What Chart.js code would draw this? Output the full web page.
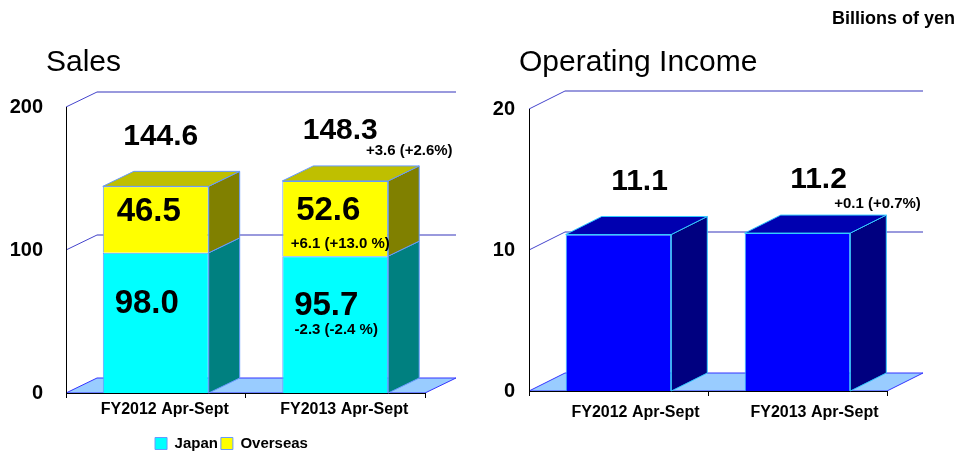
<!DOCTYPE html>
<html>
<head>
<meta charset="utf-8">
<script src="https://cdn.jsdelivr.net/npm/chart.js@4"></script>
<style>
  body { margin: 0; width: 960px; height: 454px; overflow: hidden; background: #fff; position: relative;
         font-family: Arial, "Liberation Sans", sans-serif; }
  .box { position: absolute; top: 0; }
  .title { position: absolute; top: 44px; font-size: 30px; line-height: 34px; color: #000; }
  .unit { position: absolute; top: 8px; right: 5px; font-size: 18px; font-weight: bold; line-height: 20px; color: #000; }
</style>
</head>
<body>
<div class="box" style="left:0;width:480px;height:461px"><canvas id="salesChart" width="480" height="461"></canvas></div>
<div class="box" style="left:480px;width:480px;height:454px"><canvas id="incomeChart" width="480" height="454"></canvas></div>
<div class="title" style="left:46px">Sales</div>
<div class="title" style="left:519px">Operating Income</div>
<div class="unit">Billions of yen</div>

<script>
// Sales / Operating Income (billions of yen)
const periods = ['FY2012 Apr-Sept', 'FY2013 Apr-Sept'];
const japanSales = [98.0, 95.7];
const overseasSales = [46.5, 52.6];
const salesTotals = ['144.6', '148.3'];
const salesChange = ['', '+3.6 (+2.6%)'];
const japanChange = ['', '-2.3 (-2.4 %)'];
const overseasChange = ['', '+6.1 (+13.0 %)'];
const operatingIncome = [11.1, 11.2];
const incomeChange = ['', '+0.1 (+0.7%)'];
const salesTicks = [0, 100, 200];
const incomeTicks = [0, 10, 20];

const FONT = 'Arial, "Liberation Sans", sans-serif';
Chart.defaults.font.family = FONT;

function line(ctx, x1, y1, x2, y2) {
    ctx.beginPath();
    ctx.moveTo(x1, y1);
    ctx.lineTo(x2, y2);
    ctx.stroke();
}

function poly(ctx, pts, fill, stroke) {
    ctx.beginPath();
    ctx.moveTo(pts[0][0], pts[0][1]);
    pts.slice(1).forEach(p => ctx.lineTo(p[0], p[1]));
    ctx.closePath();
    ctx.fillStyle = fill;
    ctx.fill();
    ctx.strokeStyle = stroke;
    ctx.stroke();
}

// fake 3D: floor + back wall before, side/top faces and value labels after
const box3d = {
    id: 'box3d',
    afterLayout(chart, args, o) {
        // nudge the legend so it sits under the bars rather than the canvas
        if (o.legendShift && chart.legend) {
            chart.legend.left += o.legendShift;
            chart.legend.right += o.legendShift;
        }
    },
    beforeDraw(chart, args, o) {
        const { ctx, chartArea: a, scales: { y } } = chart;
        const y0 = y.getPixelForValue(y.min);
        ctx.save();
        ctx.lineWidth = 1;
        poly(ctx, [[a.left, y0], [a.right, y0], [a.right + o.dx, y0 + o.dy], [a.left + o.dx, y0 + o.dy]], '#99ccff', '#3333ff');
        y.ticks.forEach(t => {
            if (t.value === y.min) return;
            const py = y.getPixelForValue(t.value);
            ctx.lineWidth = 2;
            ctx.strokeStyle = '#9999dd';
            line(ctx, a.left + o.dx, py + o.dy, a.right + o.dx, py + o.dy);
            ctx.lineWidth = 1;
            ctx.strokeStyle = '#4444cc';
            line(ctx, a.left, py, a.left + o.dx, py + o.dy);
        });
        ctx.restore();
    },
    afterDatasetsDraw(chart, args, o) {
        const ctx = chart.ctx;
        const last = chart.data.datasets.length - 1;
        ctx.save();
        ctx.lineWidth = 1;
        chart.data.datasets.forEach((ds, di) => {
            chart.getDatasetMeta(di).data.forEach(el => {
                const { x, y, base, width } = el.getProps(['x', 'y', 'base', 'width'], true);
                const l = x - width / 2, r = x + width / 2;
                poly(ctx, [[r, y], [r + o.dx, y + o.dy], [r + o.dx, base + o.dy], [r, base]], o.side[di], ds.borderColor);
                if (di === last) {
                    poly(ctx, [[l, y], [l + o.dx, y + o.dy], [r + o.dx, y + o.dy], [r, y]], o.top[di], ds.borderColor);
                }
            });
        });

        ctx.fillStyle = '#000';
        ctx.textAlign = 'center';
        ctx.textBaseline = 'middle';
        (o.labels || []).forEach(lb => {
            ctx.font = lb.font;
            chart.getDatasetMeta(lb.ds).data.forEach((el, i) => {
                const text = lb.texts[i];
                if (!text) return;
                const { x, y, base } = el.getProps(['x', 'y', 'base'], true);
                const ay = lb.anchor === 'top' ? y : lb.anchor === 'base' ? base : (y + base) / 2;
                ctx.fillText(text, x + lb.ox, ay + lb.oy);
            });
        });
        ctx.restore();
    }
};

const big = 'bold 33px ' + FONT;
const mid = 'bold 30px ' + FONT;
const small = 'bold 15px ' + FONT;

function xAxis(height, pad, offset) {
    return {
        afterFit: s => { s.height = height; },
        grid: { display: true, drawOnChartArea: false, drawTicks: true, tickLength: 5, color: '#000', offset: true },
        border: { color: '#000' },
        ticks: { color: '#000', font: { size: 16, weight: 'bold' }, padding: pad, labelOffset: offset, maxRotation: 0 }
    };
}

function yAxis(ticks, width, pad) {
    return {
        min: ticks[0],
        max: ticks[ticks.length - 1],
        afterFit: s => { s.width = width; },
        grid: { display: false, drawTicks: false },
        border: { display: true, color: '#000' },
        ticks: { stepSize: ticks[1] - ticks[0], color: '#000', font: { size: 20, weight: 'bold' }, padding: pad }
    };
}

new Chart(document.getElementById('salesChart'), {
    type: 'bar',
    data: {
        labels: periods,
        datasets: [
            { label: 'Japan', data: japanSales, backgroundColor: '#00ffff', borderColor: '#6699ff', borderWidth: 1 },
            { label: 'Overseas', data: overseasSales, backgroundColor: '#ffff00', borderColor: '#6699ff', borderWidth: 1 }
        ]
    },
    options: {
        responsive: false,
        animation: false,
        devicePixelRatio: 1,
        datasets: { bar: { barPercentage: 0.59, categoryPercentage: 1 } },
        layout: { padding: { top: 107, right: 55, left: 0, bottom: 0 } },
        scales: {
            x: Object.assign({ stacked: true }, xAxis(40, 2, 9)),
            y: Object.assign({ stacked: true }, yAxis(salesTicks, 66, 23))
        },
        plugins: {
            legend: {
                position: 'bottom',
                labels: { boxWidth: 12, boxHeight: 12, padding: 3, color: '#000', font: { size: 15, weight: 'bold' } }
            },
            tooltip: { enabled: false },
            box3d: {
                dx: 31, dy: -15,
                legendShift: 19,
                side: ['#008080', '#808000'],
                top: ['#00bfbf', '#bfbf00'],
                labels: [
                    { ds: 0, texts: japanSales.map(v => v.toFixed(1)), anchor: 'mid', ox: -9, oy: -19, font: big },
                    { ds: 0, texts: japanChange, anchor: 'mid', ox: 1, oy: 5, font: small },
                    { ds: 1, texts: overseasSales.map(v => v.toFixed(1)), anchor: 'mid', ox: -7, oy: -8, font: big },
                    { ds: 1, texts: overseasChange, anchor: 'base', ox: 5, oy: -12, font: small },
                    { ds: 1, texts: salesTotals, anchor: 'top', ox: 5, oy: -50, font: mid },
                    { ds: 1, texts: salesChange, anchor: 'top', ox: 74, oy: -30, font: small }
                ]
            }
        }
    },
    plugins: [box3d]
});

new Chart(document.getElementById('incomeChart'), {
    type: 'bar',
    data: {
        labels: periods,
        datasets: [
            { label: 'Operating Income', data: operatingIncome, backgroundColor: '#0000ff', borderColor: '#33ccff', borderWidth: 1 }
        ]
    },
    options: {
        responsive: false,
        animation: false,
        devicePixelRatio: 1,
        datasets: { bar: { barPercentage: 0.59, categoryPercentage: 1 } },
        layout: { padding: { top: 109, right: 73, left: 0, bottom: 0 } },
        scales: {
            x: xAxis(63, 7, 17),
            y: yAxis(incomeTicks, 49, 14)
        },
        plugins: {
            legend: { display: false },
            tooltip: { enabled: false },
            box3d: {
                dx: 36, dy: -18,
                side: ['#000080'],
                top: ['#0000b0'],
                labels: [
                    { ds: 0, texts: operatingIncome.map(v => v.toFixed(1)), anchor: 'top', ox: 21, oy: -53, font: mid },
                    { ds: 0, texts: incomeChange, anchor: 'top', ox: 80, oy: -29, font: small }
                ]
            }
        }
    },
    plugins: [box3d]
});
</script>
</body>
</html>
